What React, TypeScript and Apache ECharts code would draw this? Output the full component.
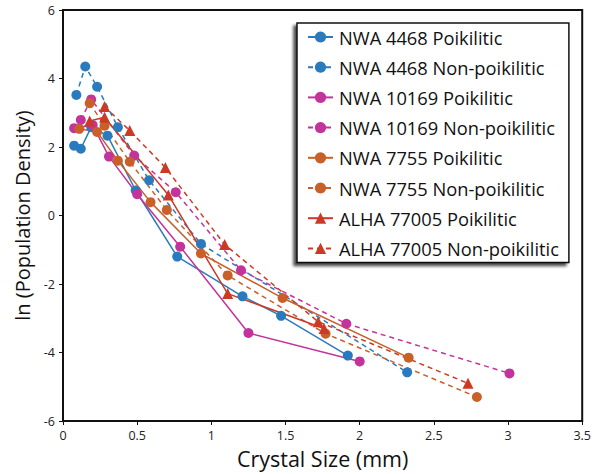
import React, { useEffect, useRef } from "react";
import * as echarts from "echarts";

const seriesNames = [
  "NWA 4468 Poikilitic",
  "NWA 4468 Non-poikilitic",
  "NWA 10169 Poikilitic",
  "NWA 10169 Non-poikilitic",
  "NWA 7755 Poikilitic",
  "NWA 7755 Non-poikilitic",
  "ALHA 77005 Poikilitic",
  "ALHA 77005 Non-poikilitic",
];

const nwa4468P: [number, number][] = [
  [0.075, 2.04], [0.12, 1.95], [0.19, 2.58], [0.3, 2.33], [0.49, 0.73],
  [0.77, -1.2], [1.21, -2.36], [1.47, -2.93], [1.92, -4.09],
];
const nwa4468N: [number, number][] = [
  [0.09, 3.52], [0.15, 4.35], [0.23, 3.76], [0.37, 2.58], [0.58, 1.03],
  [0.93, -0.83], [2.32, -4.58],
];
const nwa10169P: [number, number][] = [
  [0.075, 2.55], [0.2, 2.64], [0.31, 1.72], [0.5, 0.62], [0.79, -0.91],
  [1.25, -3.43], [2.0, -4.26],
];
const nwa10169N: [number, number][] = [
  [0.12, 2.79], [0.19, 3.39], [0.48, 1.75], [0.76, 0.68], [1.2, -1.6],
  [1.91, -3.16], [3.01, -4.61],
];
const nwa7755P: [number, number][] = [
  [0.11, 2.53], [0.23, 2.44], [0.37, 1.6], [0.59, 0.39], [0.93, -1.11],
  [1.48, -2.41], [2.33, -4.15],
];
const nwa7755N: [number, number][] = [
  [0.18, 3.28], [0.28, 2.62], [0.45, 1.57], [0.7, 0.16], [1.11, -1.75],
  [1.77, -3.45], [2.79, -5.3],
];
const alhaP: [number, number][] = [
  [0.18, 2.76], [0.28, 2.87], [0.71, 0.6], [1.11, -2.28], [1.76, -3.3],
];
const alhaN: [number, number][] = [
  [0.28, 3.18], [0.45, 2.48], [0.69, 1.4], [1.09, -0.85], [1.72, -3.1],
  [2.73, -4.9],
];

const seriesData = [nwa4468P, nwa4468N, nwa10169P, nwa10169N, nwa7755P, nwa7755N, alhaP, alhaN];
const colors = ["#2a7bbd", "#2a7bbd", "#c2339c", "#c2339c", "#c9602a", "#c9602a", "#cc3a26", "#cc3a26"];
const dashed = [false, true, false, true, false, true, false, true];
const symbols = ["circle", "circle", "circle", "circle", "circle", "circle", "triangle", "triangle"];

const FONT = "Open Sans";

export default function App() {
  const ref = useRef<HTMLDivElement>(null);
  useEffect(() => {
    if (!ref.current) return;
    const chart = echarts.init(ref.current, undefined, { renderer: "svg" });
    chart.setOption({
      animation: false,
      backgroundColor: "#fff",
      textStyle: { fontFamily: FONT },
      grid: {
        left: 63,
        right: 8,
        top: 10,
        bottom: 49,
        show: true,
        borderColor: "#111",
        borderWidth: 2,
      },
      legend: {
        orient: "vertical",
        left: 297,
        top: 23,
        padding: [5, 10, 5, 10],
        itemWidth: 25,
        itemHeight: 14,
        itemGap: 12.2,
        backgroundColor: "#fff",
        borderColor: "#111",
        borderWidth: 1.5,
        shadowColor: "rgba(0,0,0,0.7)",
        shadowBlur: 3,
        shadowOffsetX: -3,
        shadowOffsetY: 3,
        textStyle: {
          fontFamily: FONT,
          fontSize: 18.3,
          lineHeight: 18,
          color: "#111",
          padding: [0, 0, 0, 1],
        },
        data: seriesNames,
      },
      xAxis: {
        type: "value",
        min: 0,
        max: 3.5,
        interval: 0.5,
        name: "Crystal Size (mm)",
        nameLocation: "middle",
        nameGap: 26,
        nameTextStyle: { fontFamily: FONT, fontSize: 21.5, color: "#111" },
        axisLine: { onZero: false, lineStyle: { color: "#111", width: 2 } },
        axisTick: { show: true, length: 4, lineStyle: { color: "#111" } },
        axisLabel: { fontFamily: FONT, fontSize: 12.5, color: "#222", margin: 8 },
        splitLine: { show: false },
      },
      yAxis: {
        type: "value",
        min: -6,
        max: 6,
        interval: 2,
        name: "ln (Population Density)",
        nameLocation: "middle",
        nameGap: 31,
        nameTextStyle: { fontFamily: FONT, fontSize: 20, color: "#111" },
        axisLine: { show: true, onZero: false, lineStyle: { color: "#111", width: 2 } },
        axisTick: { show: true, length: 4, lineStyle: { color: "#111" } },
        axisLabel: { fontFamily: FONT, fontSize: 12.5, color: "#222", margin: 8 },
        splitLine: { show: false },
      },
      series: seriesNames.map((name, i) => ({
        name,
        type: "line",
        data: seriesData[i],
        symbol: symbols[i],
        symbolSize: symbols[i] === "triangle" ? 11 : 10,
        itemStyle: { color: colors[i] },
        lineStyle: {
          color: colors[i],
          width: 1.5,
          type: dashed[i] ? [5, 4] : "solid",
        },
        z: 2,
      })),
    });
    return () => chart.dispose();
  }, []);
  return <div ref={ref} style={{ width: 594, height: 474, position: "absolute", left: 0, top: 0 }} />;
}
